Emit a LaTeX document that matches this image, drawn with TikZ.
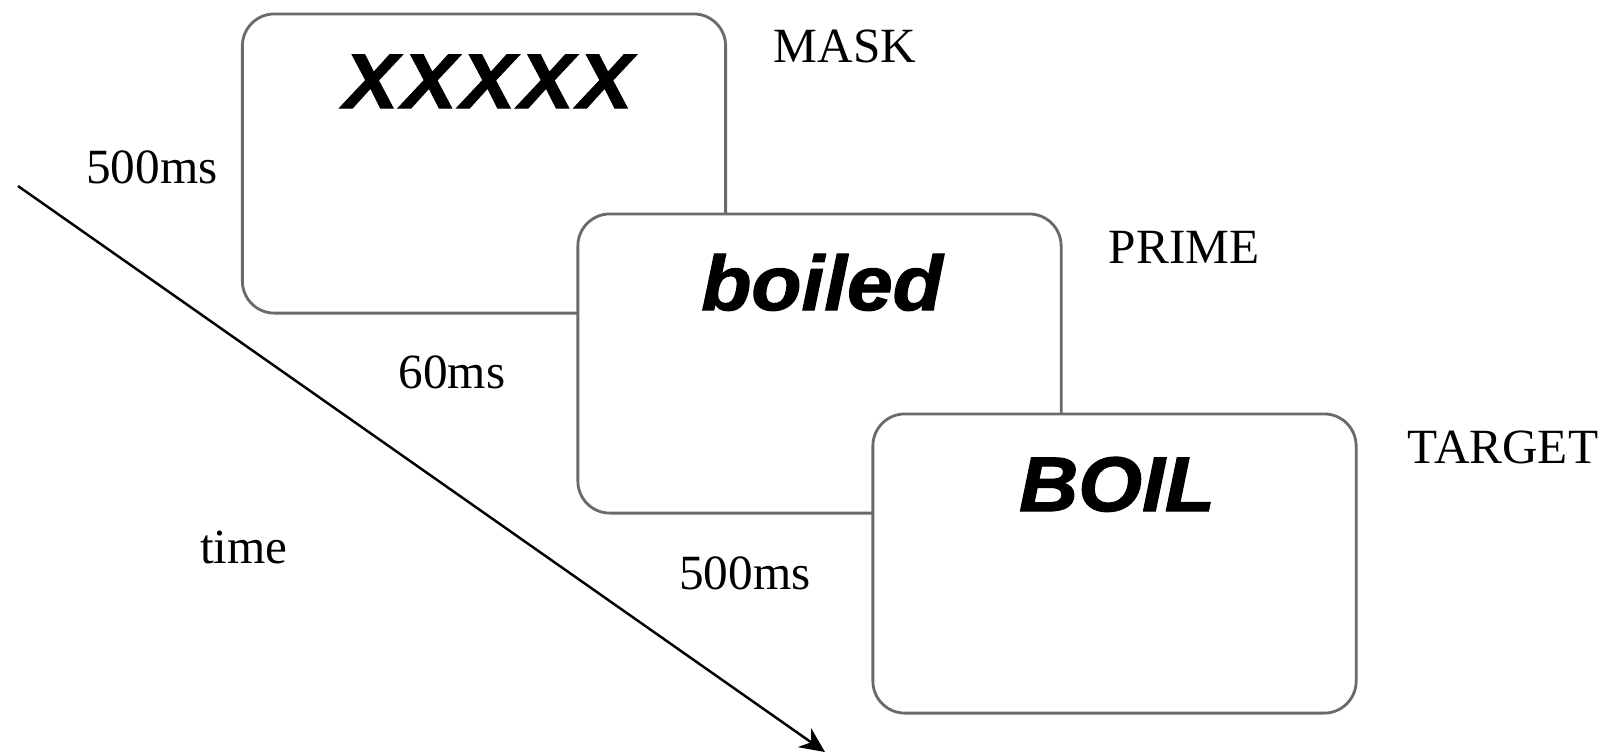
\documentclass[tikz,border=0pt]{standalone}
\usepackage{fontspec}
\setmainfont{Liberation Serif}
\newfontfamily\stimfont{Liberation Sans}[FakeStretch=1.06,FakeBold=1.6]
\usetikzlibrary{arrows.meta}
\definecolor{boxline}{HTML}{6A6A6A}
\tikzset{
  stimbox/.style={draw=boxline, line width=0.8pt, fill=white, rounded corners=0.32cm,
    minimum width=4.83cm, minimum height=2.99cm, inner sep=0pt},
  stimword/.style={anchor=base, inner sep=0pt, font=\stimfont\bfseries\itshape\fontsize{22}{26}\selectfont},
  lbl/.style={anchor=base, inner sep=0pt, font=\fontsize{14}{16}\selectfont},
  timearrow/.style={line width=0.7pt, -{Stealth[length=2.5mm,width=2.3mm]}}
}
\begin{document}
\begin{tikzpicture}[x=0.01cm,y=-0.01cm]
\useasboundingbox (0,0) rectangle (1610,753);
% boxes
\node[stimbox] (maskbox) at (484,163.5) {};
\node[stimbox] (primebox) at (819.5,363.5) {};
\node[stimbox] (targetbox) at (1114.5,563.5) {};
% words inside boxes
\node[stimword] (maskword) at (488,108) {\addfontfeature{LetterSpace=5}XXXXX};
\node[stimword] (primeword) at (822,310) {boiled};
\node[stimword] (targetword) at (1117,511) {BOIL};
% labels
\node[lbl] (masklbl) at (845,62) {MASK};
\node[lbl] (primelbl) at (1184,263) {PRIME};
\node[lbl] (targetlbl) at (1503,463) {TARGET};
\node[lbl] (dur1) at (152,183) {500ms};
\node[lbl] (dur2) at (452,388) {60ms};
\node[lbl] (dur3) at (745,589) {500ms};
\node[lbl] (timelbl) at (244,563) {time};
% time arrow
\coordinate (tstart) at (18,186);
\coordinate (tend) at (825,752);
\draw[timearrow] (tstart) -- (tend);
\end{tikzpicture}
\end{document}
